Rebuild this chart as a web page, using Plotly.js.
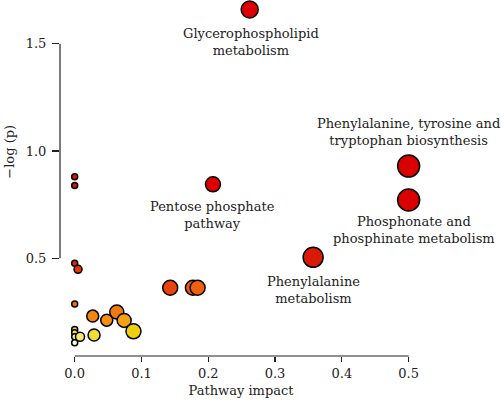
<!DOCTYPE html>
<html>
<head>
<meta charset="utf-8">
<script src="https://cdn.plot.ly/plotly-3.0.1.min.js"></script>
<style>html,body{margin:0;padding:0;background:#fff;}#chart{width:501px;height:406px;}</style>
</head>
<body>
<div id="chart"></div>
<script>
// Pathway impact (x) and -log(p) (y)
const impact = [0.262, 0.500, 0.500, 0.207, 0.357,
  0.000, 0.000, 0.000, 0.005, 0.000,
  0.143, 0.177, 0.184,
  0.027, 0.048, 0.063, 0.074, 0.088, 0.029,
  0.000, 0.000, 0.000, 0.008, 0.000];
const logp = [1.660, 0.930, 0.772, 0.845, 0.505,
  0.880, 0.840, 0.477, 0.449, 0.287,
  0.363, 0.363, 0.363,
  0.231, 0.212, 0.250, 0.211, 0.160, 0.143,
  0.169, 0.153, 0.135, 0.135, 0.107];
const sizes = [17, 22, 22, 15, 20,
  6, 6, 6, 8, 6,
  15, 15, 15,
  12, 12, 14, 14, 15, 12,
  6, 6, 6, 9, 6];
const colors = ['#DD0000', '#D80000', '#D80000', '#DC0000', '#D81A06',
  '#DC1400', '#DC1400', '#E02800', '#E53800', '#F07000',
  '#E84410', '#EE5810', '#F06010',
  '#F58510', '#F59015', '#F07A10', '#F5A015', '#EED010', '#F2DC30',
  '#F5D020', '#F5E040', '#F8F090', '#F8E870', '#FFFFDD'];
const labels = ['Glycerophospholipid<br>metabolism',
  'Phenylalanine, tyrosine and<br>tryptophan biosynthesis',
  'Phosphonate and<br>phosphinate metabolism',
  'Pentose phosphate<br>pathway',
  'Phenylalanine<br>metabolism'];
const labelShift = [[1, -33], [0, 34], [5, -30], [0, -31], [0, -33]];
const xTicks = [0, 0.1, 0.2, 0.3, 0.4, 0.5];
const yTicks = [0.5, 1.0, 1.5];

const font = 'DejaVu Serif';

const trace = {
  x: impact, y: logp, mode: 'markers', type: 'scatter', cliponaxis: false,
  marker: {size: sizes, color: colors, line: {color: '#000', width: 1.5}, opacity: 1},
  hoverinfo: 'none'
};

const annotations = labels.map((t, i) => ({
  x: impact[i], y: logp[i], xref: 'x', yref: 'y', text: t, showarrow: false,
  xshift: labelShift[i][0], yshift: labelShift[i][1],
  font: {family: font, size: 13, color: '#222'}, align: 'center'
}));
annotations.push({
  xref: 'paper', yref: 'paper', x: -0.138, y: 0.574, xanchor: 'center', yanchor: 'middle',
  text: '\u2212log (p)', showarrow: false,
  textangle: -90, font: {family: font, size: 13, color: '#222'}
});

const layout = {
  width: 501, height: 406,
  margin: {l: 60, r: 79, t: 0, b: 50},
  paper_bgcolor: '#fff', plot_bgcolor: '#fff',
  showlegend: false,
  font: {family: font, size: 13, color: '#222'},
  xaxis: {range: [-0.022, 0.520], tickvals: xTicks, tickformat: '.1f', ticks: 'outside', ticklen: 5,
    tickcolor: '#222', tickwidth: 1.2, showgrid: false, zeroline: false, showline: false,
    tickfont: {family: font, size: 13, color: '#222'},
    title: {text: 'Pathway impact', font: {family: font, size: 13, color: '#222'}, standoff: 6}},
  yaxis: {range: [0.045, 1.704], tickvals: yTicks, tickformat: '.1f', ticks: 'outside', ticklen: 7,
    tickcolor: '#222', tickwidth: 1.2, showgrid: false, zeroline: false, showline: false,
    ticklabelstandoff: 3,
    tickfont: {family: font, size: 13, color: '#222'}},
  shapes: [
    {type: 'line', xref: 'x', yref: 'paper', x0: xTicks[0], x1: xTicks[xTicks.length - 1], y0: 0, y1: 0,
      line: {color: '#222', width: 1.2}},
    {type: 'line', xref: 'paper', yref: 'y', x0: 0, x1: 0, y0: yTicks[0], y1: yTicks[yTicks.length - 1],
      line: {color: '#222', width: 1.2}}
  ],
  annotations: annotations
};

Plotly.newPlot('chart', [trace], layout, {staticPlot: true, displayModeBar: false});
</script>
</body>
</html>
